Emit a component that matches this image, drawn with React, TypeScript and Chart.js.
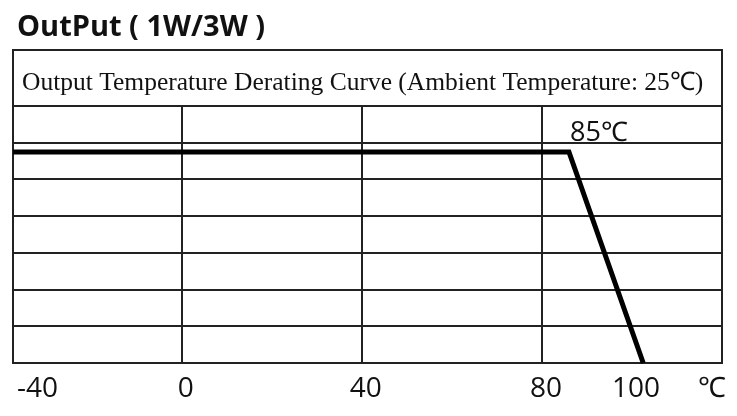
import React, { useEffect, useRef } from "react";
import { Chart, registerables } from "chart.js";

Chart.register(...registerables);

const mainTitle = "OutPut ( 1W/3W )";
const subTitle = "Output Temperature Derating Curve (Ambient Temperature: 25℃)";
const kneeLabel = "85℃";

const curveTemps = [-37.5, 86, 102.5];
const curveOutput = [115, 115, 0];

const xTickValues = [-37.5, 0, 40, 80, 100, 120];
const xTickLabels = ["-40", "0", "40", "80", "100", "℃"];
const xHiddenGrid = [100];

const xMin = -37.5;
const xMax = 120;
const yMin = 0;
const yMax = 140;
const yStep = 20;

const LINE = "#222222";

export default function App() {
  const ref = useRef<HTMLCanvasElement | null>(null);

  useEffect(() => {
    if (!ref.current) return;
    const frame = {
      id: "frame",
      afterDraw(chart: any) {
        const { ctx, chartArea } = chart;
        ctx.save();
        // main title
        ctx.fillStyle = "#111";
        ctx.font = "bold 29px 'Open Sans', sans-serif";
        ctx.textAlign = "left";
        ctx.textBaseline = "alphabetic";
        ctx.fillText(mainTitle, 17, 36);
        // subtitle box
        ctx.strokeStyle = LINE;
        ctx.lineWidth = 2;
        ctx.strokeRect(chartArea.left, 50, chartArea.right - chartArea.left, chartArea.top - 50);
        ctx.font = "25.5px 'Liberation Serif', 'Times New Roman', serif";
        ctx.fillStyle = "#111";
        ctx.fillText(subTitle, 22, 90);
        // knee label
        const xs = chart.scales.x;
        const ys = chart.scales.y;
        const px = xs.getPixelForValue(curveTemps[1]);
        const py = ys.getPixelForValue(curveOutput[1]);
        ctx.font = "27px 'Open Sans', sans-serif";
        ctx.fillText(kneeLabel, px + 1, py - 11);
        ctx.restore();
      },
    };

    const chart = new Chart(ref.current, {
      type: "line",
      data: {
        datasets: [
          {
            data: curveTemps.map((t, i) => ({ x: t, y: curveOutput[i] })),
            borderColor: "#000",
            borderWidth: 5,
            pointRadius: 0,
            tension: 0,
            borderJoinStyle: "miter",
            clip: 4,
          },
        ],
      },
      options: {
        animation: false,
        responsive: false,
        devicePixelRatio: 1,
        layout: { padding: { left: 13, right: 15, top: 106, bottom: 0 } },
        plugins: { legend: { display: false }, tooltip: { enabled: false } },
        scales: {
          x: {
            type: "linear",
            min: xMin,
            max: xMax,
            afterBuildTicks: (scale: any) => {
              scale.ticks = xTickValues.map((v) => ({ value: v }));
            },
            afterFit: (scale: any) => {
              scale.height = 53;
            },
            grid: {
              drawTicks: false,
              lineWidth: 2,
              color: (c: any) =>
                c.tick && xHiddenGrid.includes(c.tick.value) ? "rgba(0,0,0,0)" : LINE,
            },
            border: { display: true, color: LINE, width: 2 },
            ticks: {
              autoSkip: false,
              maxRotation: 0,
              align: "inner",
              labelOffset: 4,
              padding: 9,
              color: "#111",
              font: { family: "'Open Sans', sans-serif", size: 28 },
              callback: (_v: any, i: number) => xTickLabels[i],
            },
          },
          y: {
            type: "linear",
            min: yMin,
            max: yMax,
            afterFit: (scale: any) => {
              scale.width = 0;
            },
            grid: { drawTicks: false, lineWidth: 2, color: LINE },
            border: { display: true, color: LINE, width: 2 },
            ticks: { display: false, stepSize: yStep },
          },
        },
      },
      plugins: [frame],
    });
    return () => chart.destroy();
  }, []);

  return (
    <div style={{ position: "fixed", left: 0, top: 0, width: 737, height: 416, background: "#fff" }}>
      <canvas ref={ref} width={737} height={416} />
    </div>
  );
}
